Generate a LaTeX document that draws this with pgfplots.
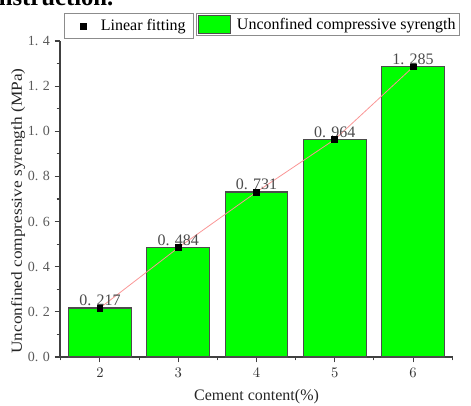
\documentclass[border=0pt]{standalone}
\usepackage{pgfplots}
\pgfplotsset{compat=1.18}
\usepackage{fontspec}
\setmainfont{Liberation Serif}
\definecolor{barG}{RGB}{0,255,0}
\definecolor{tickG}{RGB}{90,90,90}
\definecolor{lineR}{RGB}{250,150,150}
\begin{document}
\begin{tikzpicture}
\useasboundingbox (0,0) rectangle (353.25pt,303.75pt);
\node[anchor=base west,inner sep=0pt,font=\fontsize{18.5}{20}\selectfont\bfseries] at (-1pt,299.3pt) {nstruction.};
\begin{axis}[
  at={(45pt,36pt)}, anchor=south west,
  scale only axis, width=294.75pt, height=237pt,
  xmin=1.49, xmax=6.51, ymin=0, ymax=1.4,
  axis x line*=bottom, axis y line*=left,
  axis line style={color=black!75, line width=0.8pt},
  tick align=outside,
  major tick length=4pt, minor tick length=2.5pt,
  tick style={color=black!75, line width=0.8pt},
  xtick={2,3,4,5,6},
  minor xtick={1.5,2.5,3.5,4.5,5.5,6.5},
  xticklabel style={font=\fontsize{11}{12}\selectfont\bfseries, color=black!80, yshift=-1pt},
  ytick={0,0.2,0.4,0.6,0.8,1.0,1.2,1.4},
  yticklabels={0. 0,0. 2,0. 4,0. 6,0. 8,1. 0,1. 2,1. 4},
  minor ytick={0.1,0.3,0.5,0.7,0.9,1.1,1.3},
  yticklabel style={font=\fontsize{10.5}{12}\selectfont, color=tickG},
  xlabel={Cement content(\%)},
  xlabel style={font=\fontsize{12}{14}\selectfont, color=black!85, yshift=-2pt},
  ylabel={\scalebox{1.13}[1]{Unconfined compressive syrength (MPa)}},
  ylabel style={font=\fontsize{11.5}{13}\selectfont, color=black!85, yshift=-5pt, xshift=-9pt},
  legend style={at={(0.0102,1.0886)}, anchor=north west, draw=black!45, line width=0.6pt,
    font=\fontsize{12}{14}\selectfont, inner xsep=4pt, inner ysep=2.5pt},
  legend cell align=left,
  clip=false,
]
\addplot[ybar, bar width=0.8, fill=barG, draw=black!70, line width=0.8pt,
  nodes near coords, point meta=explicit symbolic,
  every node near coord/.append style={font=\fontsize{12}{14}\selectfont, color=black!70, anchor=south, inner sep=1pt},
  forget plot]
  coordinates {(2,0.217)[0. 217] (3,0.484)[0. 484] (4,0.731)[0. 731] (5,0.964)[0. 964] (6,1.285)[1. 285]};
\addplot[color=lineR, line width=0.6pt, mark=square*, mark size=2.2pt,
  mark options={fill=black, draw=black, solid},
  legend image code/.code={\path[draw=none] (0cm,0cm) -- (0.75cm,0cm);
    \path[draw=none] plot[mark=square*, mark size=2.2pt, mark options={fill=black,draw=black}] coordinates {(0.35cm,0cm)};}]
  coordinates {(2,0.217) (3,0.484) (4,0.731) (5,0.964) (6,1.285)};
\addlegendentry{Linear fitting}
\end{axis}
\begin{axis}[
  at={(45pt,36pt)}, anchor=south west,
  scale only axis, width=294.75pt, height=237pt,
  xmin=1.49, xmax=6.51, ymin=0, ymax=1.4,
  hide axis,
  legend style={at={(0.346,1.0886)}, anchor=north west, draw=black!45, line width=0.6pt,
    font=\fontsize{12}{14}\selectfont, inner xsep=1pt, inner ysep=1pt},
  legend cell align=left,
]
\addlegendimage{legend image code/.code={\path[draw=none] (0cm,0cm) -- (0.95cm,0cm);
  \draw[fill=barG, draw=black!70, line width=0.8pt] (0cm,-0.24cm) rectangle (0.85cm,0.24cm);}}
\addlegendentry{Unconfined compressive syrength}
\end{axis}
\end{tikzpicture}
\end{document}
